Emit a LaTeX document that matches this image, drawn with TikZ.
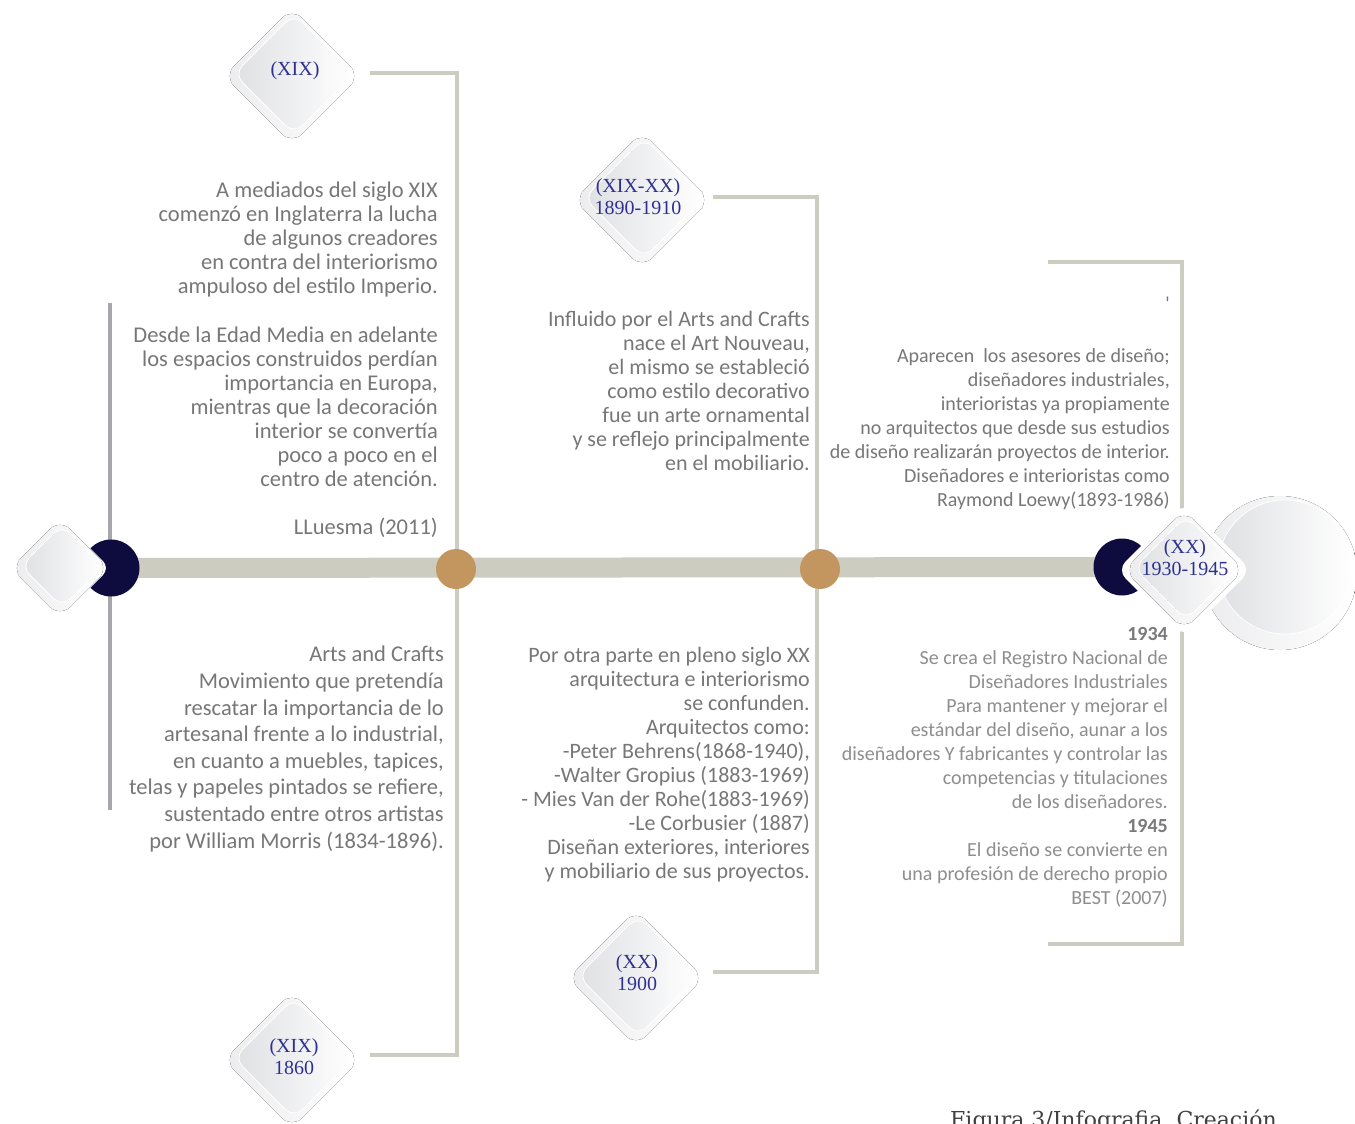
\documentclass[tikz,border=0pt]{standalone}
\usepackage{fontspec}
\setmainfont{Carlito}
\newfontfamily\serifface{Liberation Serif}
\newfontfamily\capface{DejaVu Serif}
\definecolor{railc}{HTML}{CDCCC0}
\definecolor{tanc}{HTML}{C4965F}
\definecolor{navyc}{HTML}{0E0C3F}
\definecolor{txtc}{HTML}{777777}
\definecolor{lighttxt}{HTML}{8E8E8E}
\definecolor{yearc}{HTML}{7A7A7A}
\definecolor{lblc}{HTML}{2E3192}
\definecolor{axisc}{HTML}{A7A7AB}
\definecolor{gemout}{HTML}{ECECEE}
\definecolor{gemin}{HTML}{DFE0E3}
\tikzset{
  pics/gem/.style={code={
    \fill[rounded corners=14pt, left color=gemout, right color=white]
      (-#1,0) -- (0,-#1) -- (#1,0) -- (0,#1) -- cycle;
    \draw[white, line width=0.8pt, rounded corners=12pt, left color=gemin, right color=white]
      (-#1+10,-2) -- (2,-#1+6) -- (#1-6,-2) -- (2,#1-10) -- cycle;
  }},
  rail/.style={draw=railc, line width=3.5pt},
  bar/.style={draw=railc, line width=20pt},
  axis/.style={draw=axisc, line width=3.5pt},
  tandot/.style={circle, fill=tanc, minimum size=40pt, inner sep=0pt},
  navydot/.style={circle, fill=navyc, minimum size=57pt, inner sep=0pt},
  txt/.style={font=\fontsize{22.5}{24}\selectfont, text=txtc, align=right, inner sep=0pt, anchor=base east},
  txtlow/.style={txt, font=\fontsize{22.5}{26.6}\selectfont},
  txtmid/.style={txt, font=\fontsize{22}{24}\selectfont},
  txtsmall/.style={txt, font=\fontsize{20}{24}\selectfont},
  lbl/.style={font=\serifface\fontsize{20}{22}\selectfont, text=lblc, align=center, inner sep=0pt},
}
\begin{document}
\begin{tikzpicture}[x=1pt, y=-1pt]
\clip (0,0) rectangle (1355,1124);
\fill[white] (0,0) rectangle (1355,1124);

% anchor points of the timeline
\coordinate (start) at (111,568);
\coordinate (stop) at (1122,567);
\coordinate (m1) at (456,569);
\coordinate (m2) at (820,569);

% bracket rails
\coordinate (r1a) at (370,73);
\coordinate (r1b) at (457,1055);
\coordinate (r1c) at (370,1055);
\draw[rail] (r1a) -| (r1b) -- (r1c);
\coordinate (r2a) at (713,197);
\coordinate (r2b) at (817,972);
\coordinate (r2c) at (713,972);
\draw[rail] (r2a) -| (r2b) -- (r2c);
\coordinate (r3a) at (1048,262);
\coordinate (r3b) at (1182,510);
\draw[rail] (r3a) -| (r3b);
\coordinate (r4a) at (1182,628);
\coordinate (r4b) at (1048,944);
\draw[rail] (r4a) |- (r4b);

% left axis
\coordinate (ax1) at (110,303);
\coordinate (ax2) at (110,810);
\draw[axis] (ax1) -- (ax2);

% main bar
\draw[bar] (start) -- (stop);

% milestones
\node[tandot] (d1) at (m1) {};
\node[tandot] (d2) at (m2) {};

% large disc on the right
\fill[left color=gemout, right color=white] (1280,573) circle (77);
\draw[white, line width=0.8pt, left color=gemin, right color=white] (1285,567) circle (67);

% crescents
\node[navydot] (c1) at (start) {};
\node[navydot] (c2) at (stop) {};
\fill[white, rounded corners=10pt] (60-50,568) -- (60,568-50) -- (60+50,568) -- (60,568+50) -- cycle;
\fill[white, rounded corners=12pt] (1184-67,570) -- (1184,570-67) -- (1184+67,570) -- (1184,570+67) -- cycle;

% badges
\pic (g0) at (60,568) {gem=49};
\pic (g1) at (292,76) {gem=68};
\pic (g2) at (642,200) {gem=68};
\pic (g3) at (636,978) {gem=68};
\pic (g4) at (292,1060) {gem=68};
\pic (g5) at (1184,570) {gem=60};

\node[lbl] (l1) at (295,71) {(XIX)};
\node[lbl] (l2) at (638,197) {(XIX-XX)\\1890-1910};
\node[lbl] (l3) at (637,973) {(XX)\\1900};
\node[lbl] (l4) at (294,1057) {(XIX)\\1860};
\node[lbl] (l5) at (1185,558) {(XX)\\1930-1945};

% texts (anchored at the baseline of their last line)
\node[txt] (t1) at (438,293) {A mediados del siglo XIX\\
comenzó en Inglaterra la lucha\\
de algunos creadores\\
en contra del interiorismo\\
ampuloso del estilo Imperio.};

\node[txt] (t2) at (438,534) {Desde la Edad Media en adelante\\
los espacios construidos perdían\\
importancia en Europa,\\
mientras que la decoración\\
interior se convertía\\
poco a poco en el\\
centro de atención.\\[24pt]
LLuesma (2011)};

\node[txtlow] (t3) at (444,848) {Arts and Crafts\\
Movimiento que pretendía\\
rescatar la importancia de lo\\
artesanal frente a lo industrial,\\
en cuanto a muebles, tapices,\\
telas y papeles pintados se refiere,\\
sustentado entre otros artistas\\
por William Morris (1834-1896).};

\node[txtmid] (t4) at (810,470) {Influido por el Arts and Crafts\\
nace el Art Nouveau,\\
el mismo se estableció\\
como estilo decorativo\\
fue un arte ornamental\\
y se reflejo principalmente\\
en el mobiliario.};

\node[txtmid] (t5) at (810,878) {Por otra parte en pleno siglo XX\\
arquitectura e interiorismo\\
se confunden.\\
Arquitectos como:\\
-Peter Behrens(1868-1940),\\
-Walter Gropius (1883-1969)\\
- Mies Van der Rohe(1883-1969)\\
-Le Corbusier (1887)\\
Diseñan exteriores, interiores\\
y mobiliario de sus proyectos.};

\node[txtsmall] (t6a) at (1170,310) {\textquotesingle};
\node[txtsmall] (t6) at (1170,506) {Aparecen~ los asesores de diseño;\\
diseñadores industriales,\\
interioristas ya propiamente\\
no arquitectos que desde sus estudios\\
de diseño realizarán proyectos de interior.\\
Diseñadores e interioristas como\\
Raymond Loewy(1893-1986)};

\node[txtsmall, text=lighttxt] (t7) at (1168,904) {{\color{yearc}\bfseries 1934}\\
Se crea el Registro Nacional de\\
Diseñadores Industriales\\
Para mantener y mejorar el\\
estándar del diseño, aunar a los\\
diseñadores Y fabricantes y controlar las\\
competencias y titulaciones\\
de los diseñadores.\\
{\color{yearc}\bfseries 1945}\\
El diseño se convierte en\\
una profesión de derecho propio\\
BEST (2007)};

% caption
\node[font=\capface\fontsize{22}{26}\selectfont, text=black!75, inner sep=0pt, anchor=base west] (cap) at (950,1127) {Figura 3/Infografia~ Creación};
\end{tikzpicture}
\end{document}
